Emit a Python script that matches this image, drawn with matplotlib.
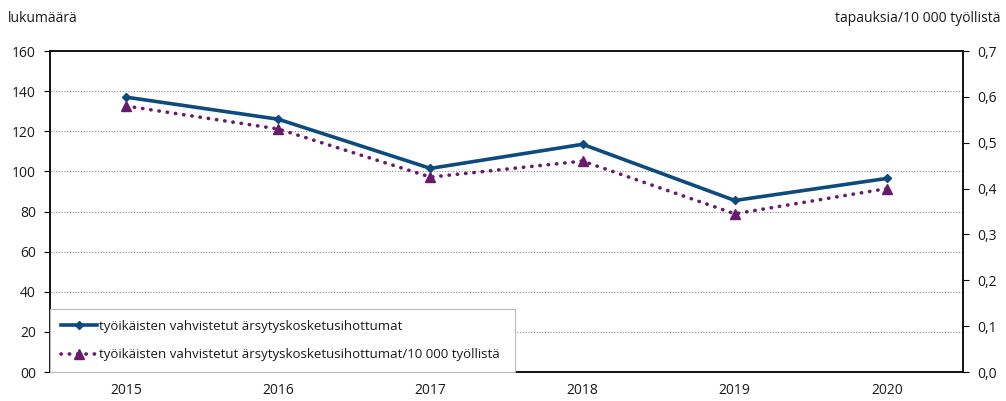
import matplotlib

matplotlib.use("Agg")
import matplotlib.pyplot as plt
from matplotlib.ticker import FixedLocator

years = ["2015", "2016", "2017", "2018", "2019", "2020"]
cases = [137, 126, 101.5, 113.5, 85.5, 96.5]
cases_per_10k = [0.58, 0.53, 0.425, 0.46, 0.345, 0.40]

left_ticks = [0, 20, 40, 60, 80, 100, 120, 140, 160]
left_labels = ["00", "20", "40", "60", "80", "100", "120", "140", "160"]
right_ticks = [0.0, 0.1, 0.2, 0.3, 0.4, 0.5, 0.6, 0.7]
right_labels = ["0,0", "0,1", "0,2", "0,3", "0,4", "0,5", "0,6", "0,7"]

label_cases = "työikäisten vahvistetut ärsytyskosketusihottumat"
label_rate = "työikäisten vahvistetut ärsytyskosketusihottumat/10 000 työllistä"

BLUE = "#0d4a7e"
PURPLE = "#6a1a6e"
TEXT = "#1a1a1a"

plt.rcParams["font.family"] = ["Open Sans", "DejaVu Sans"]
plt.rcParams["font.size"] = 10

fig = plt.figure(figsize=(10.06, 4.01), dpi=100)
ax = fig.add_axes([0.0497, 0.0723, 0.9076, 0.8005])
ax2 = ax.twinx()

x = list(range(len(years)))

l1, = ax.plot(x, cases, color=BLUE, linewidth=2.6, marker="D", markersize=4,
              label=label_cases, zorder=3)
l2, = ax2.plot(x, cases_per_10k, color=PURPLE, linewidth=2.6,
               linestyle=(0, (0.1, 2.2)), dash_capstyle="round",
               marker="^", markersize=6.5, label=label_rate, zorder=3)

ax.set_xlim(-0.5, len(years) - 0.5)
ax.set_ylim(0, 160)
ax2.set_ylim(0, 0.7)

ax.set_xticks(x)
ax.set_xticklabels(years, color=TEXT)
ax.tick_params(axis="x", length=0, pad=8)

ax.yaxis.set_major_locator(FixedLocator(left_ticks))
ax.set_yticklabels(left_labels, color=TEXT)
ax.tick_params(axis="y", length=4, direction="out", pad=6)
ax2.yaxis.set_major_locator(FixedLocator(right_ticks))
ax2.set_yticklabels(right_labels, color=TEXT)
ax2.tick_params(axis="y", length=4, direction="out", pad=6)

for g in left_ticks[1:-1]:
    ax.axhline(g, color="#8a8a8a", linestyle=(0, (1, 1.5)), linewidth=0.8,
               zorder=1)

for a in (ax, ax2):
    for spine in a.spines.values():
        spine.set_color("#111111")
        spine.set_linewidth(1.2)

# left-axis line sits beneath the right-axis one so the legend covers both
ax.set_zorder(ax2.get_zorder() - 1)
ax.patch.set_visible(False)

leg = ax2.legend(handles=[l1, l2], loc="lower left",
                 bbox_to_anchor=(0.0, 0.0, 0.509, 0.184), mode="expand",
                 borderaxespad=0, fancybox=False, framealpha=1,
                 edgecolor="#bbbbbb", handlelength=2.8, handletextpad=0.1,
                 labelspacing=1.2, borderpad=0.8, fontsize=9.5)
leg.get_frame().set_linewidth(0.8)
for t in leg.get_texts():
    t.set_color(TEXT)

fig.text(0.008, 0.955, "lukumäärä", ha="left", va="center", color=TEXT,
         fontsize=10)
fig.text(0.995, 0.955, "tapauksia/10 000 työllistä", ha="right",
         va="center", color=TEXT, fontsize=10)

fig.savefig("out.png", dpi=100)
